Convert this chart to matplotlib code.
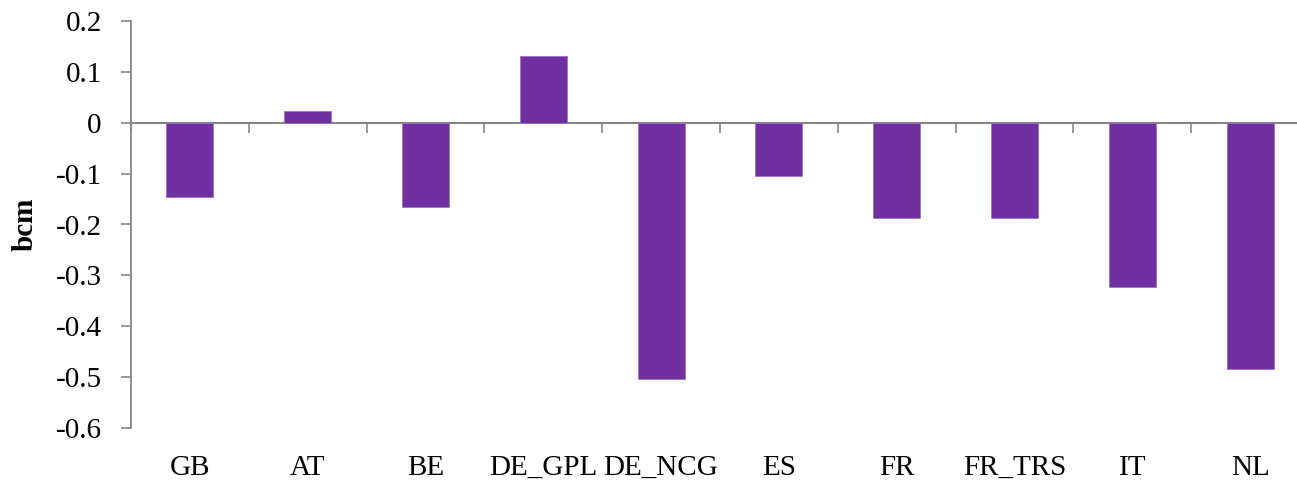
import matplotlib
matplotlib.use("Agg")
import matplotlib.pyplot as plt
import numpy as np

categories = ["GB", "AT", "BE", "DE_GPL", "DE_NCG", "ES", "FR", "FR_TRS", "IT", "NL"]
values = [-0.147, 0.022, -0.166, 0.131, -0.503, -0.105, -0.187, -0.188, -0.322, -0.484]
yticks = [0.2, 0.1, 0, -0.1, -0.2, -0.3, -0.4, -0.5, -0.6]
ytick_labels = ["0.2", "0.1", "0", "-0.1", "-0.2", "-0.3", "-0.4", "-0.5", "-0.6"]

plt.rcParams['font.family'] = ['Liberation Serif', 'DejaVu Serif']

W, H = 1297, 486
fig = plt.figure(figsize=(W / 100, H / 100), dpi=100)
ax = fig.add_axes([131 / W, (H - 428.3) / H, 1 - 131 / W, (428.3 - 20.7) / H])

x = np.arange(len(categories))
ax.bar(x, values, width=0.4, color="#7030A0", edgecolor="#9b72c4", linewidth=0.6, zorder=2)

gray = "#868686"
ax.set_ylim(-0.6, 0.2)
ax.set_xlim(-0.5, 9.5 - 12 / 117.8)
ax.set_yticks(yticks)
ax.set_yticklabels(ytick_labels, fontsize=21)
ax.tick_params(axis='y', length=7, width=1.2, color=gray, pad=14)

ax.set_xticks(x)
ax.set_xticklabels(categories, fontsize=21)
ax.tick_params(axis='x', length=0, pad=19)

for s in ["top", "right", "bottom"]:
    ax.spines[s].set_visible(False)
ax.spines["left"].set_color(gray)
ax.spines["left"].set_linewidth(1.3)

sec = ax.secondary_xaxis(0, transform=ax.transData)
sec.set_xticks(np.arange(len(categories) + 1) - 0.5)
sec.set_xticklabels([])
sec.tick_params(axis='x', length=7, width=1.2, color=gray, direction='out')
sec.spines["bottom"].set_color(gray)
sec.spines["bottom"].set_linewidth(1.5)

ax.set_ylabel("bcm", fontsize=21, fontweight="bold", labelpad=12)

fig.savefig("out.png", dpi=100)
